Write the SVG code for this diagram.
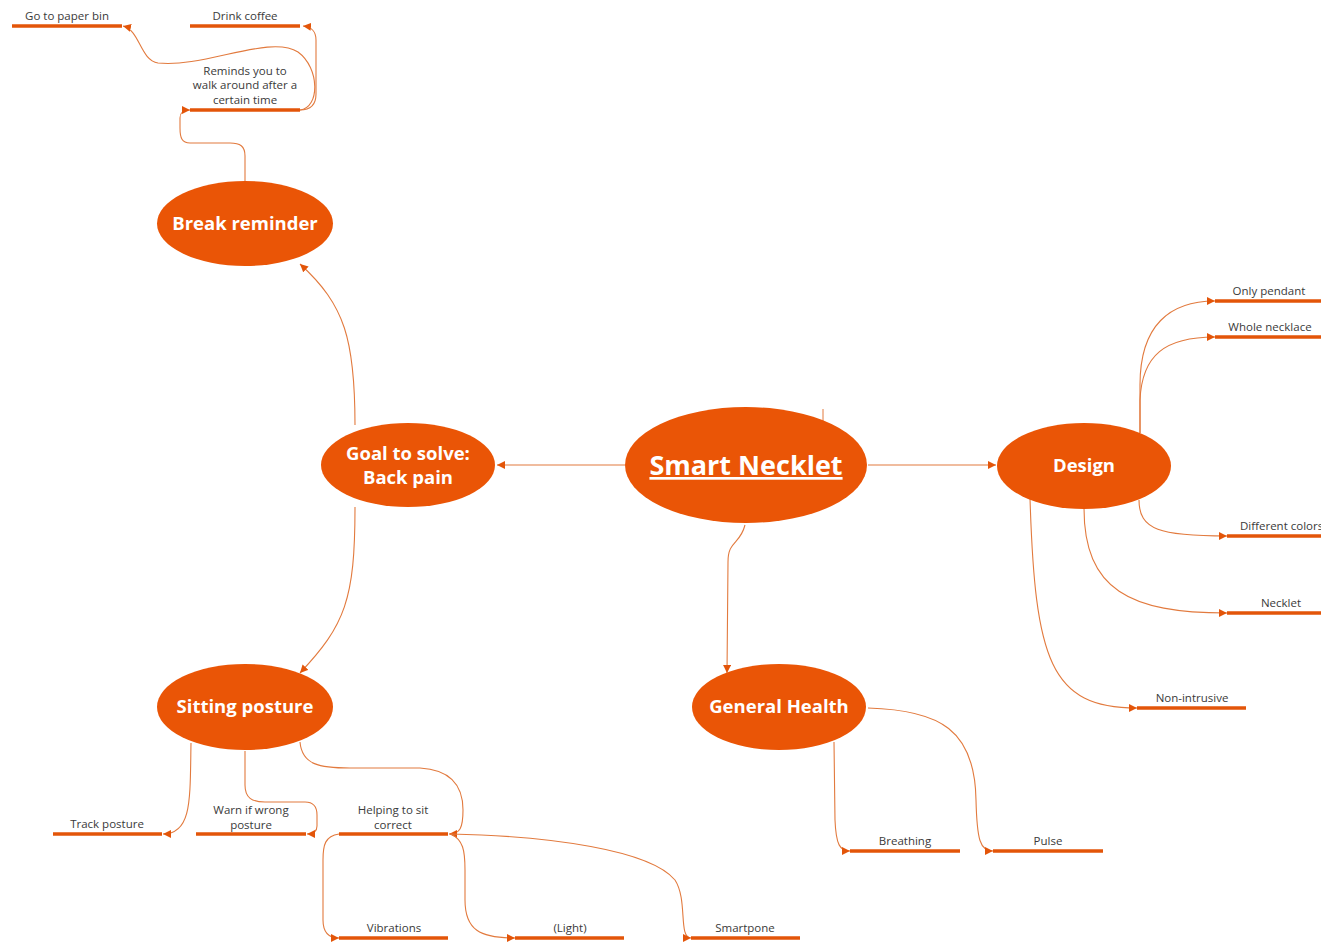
<svg xmlns="http://www.w3.org/2000/svg" width="1321" height="943" viewBox="0 0 1321 943">
<style>
.node{fill:#EA5506;}
.nt{font-family:"Open Sans","Noto Sans",sans-serif;font-weight:bold;font-size:18.5px;fill:#fff;text-anchor:middle;}
.lt{font-family:"Open Sans","Noto Sans",sans-serif;font-size:11.5px;fill:#3a3a3a;text-anchor:middle;}
.leaf{stroke:#E35509;stroke-width:3.5;fill:none;}
.c{stroke:#E27A3E;stroke-width:1.1;fill:none;marker-end:url(#arr);}
</style>
<defs>
<marker id="arr" markerUnits="userSpaceOnUse" markerWidth="9" markerHeight="8" refX="8" refY="4" orient="auto">
<path d="M0,0 L8,4 L0,8 Z" fill="#E35509"/>
</marker>
</defs>
<rect width="1321" height="943" fill="#fff"/>
<g id="connectors">
<path class="c" d="M625,465 L497,465"/>
<path class="c" d="M868,465 L996,465"/>
<path class="c" d="M745,525 C740,545 728,540 728,562 L727,673"/>
<path class="c" d="M355,425 C355,340 345,305 300,264"/>
<path class="c" d="M355,507 C355,600 345,625 300,673"/>
<path class="c" d="M245,181 L245,156 C245,146 240,143 230,143 L190,143 C182,143 180,138 180,128 L180,118 C180,112 183,110 190,110"/>
<path class="c" d="M300,110 C312,110 316,104 316,94 L316,40 C316,31 312,27 303,26"/>
<path class="c" d="M300,110 C320,108 320,68 298,52 C270,34 205,68 158,63 C140,60 140,30 123,26"/>
<path class="c" d="M1140,433 L1140,385 C1140,325 1170,301 1215,301"/>
<path class="c" d="M1140,433 L1140,400 C1142,355 1165,337 1215,337"/>
<path class="c" d="M1139,500 C1139,530 1160,536 1227,536"/>
<path class="c" d="M1084,508 C1084,590 1130,613 1227,613"/>
<path class="c" d="M1030,498 C1035,660 1050,708 1137,708"/>
<path class="c" d="M191,743 C190,800 192,834 163,834"/>
<path class="c" d="M245,751 L245,785 C245,798 252,802 265,802 L305,802 C313,802 317,806 317,815 L317,826 C317,832 313,834 307,834"/>
<path class="c" d="M300,742 C302,765 320,768 350,768 L420,768 C455,770 463,790 463,810 C463,828 460,834 449,834"/>
<path class="c" d="M339,834 C325,836 323,845 323,860 L323,920 C323,932 328,938 339,938"/>
<path class="c" d="M451,834 C463,840 465,850 465,870 L465,900 C465,930 480,938 515,938"/>
<path class="c" d="M451,834 C550,836 650,850 675,880 C688,900 678,938 691,938"/>
<path class="c" d="M834,742 L835,820 C836,845 840,851 850,851"/>
<path class="c" d="M868,708 C940,710 975,730 976,800 C977,840 980,851 993,851"/>
<path d="M823,409 L823,421" stroke="#E27A3E" stroke-width="1" fill="none"/>
</g>
<g id="smart-necklet">
<ellipse class="node" cx="746" cy="465" rx="121" ry="58"/>
<text class="nt" x="746" y="475" style="font-size:27px;text-decoration:underline">Smart Necklet</text>
</g>
<g id="goal">
<ellipse class="node" cx="408" cy="465" rx="87" ry="42"/>
<text class="nt" x="408" y="460">Goal to solve:</text>
<text class="nt" x="408" y="484">Back pain</text>
</g>
<g id="break-reminder">
<ellipse class="node" cx="245" cy="223.5" rx="88" ry="42.5"/>
<text class="nt" x="245" y="230">Break reminder</text>
</g>
<g id="sitting-posture">
<ellipse class="node" cx="245" cy="707" rx="88" ry="43"/>
<text class="nt" x="245" y="713">Sitting posture</text>
</g>
<g id="design">
<ellipse class="node" cx="1084" cy="466" rx="87" ry="43"/>
<text class="nt" x="1084" y="472">Design</text>
</g>
<g id="general-health">
<ellipse class="node" cx="779" cy="707" rx="87" ry="43"/>
<text class="nt" x="779" y="713">General Health</text>
</g>
<g id="go-to-paper-bin"><line class="leaf" x1="12" y1="26" x2="122" y2="26"/><text class="lt" x="67" y="20">Go to paper bin</text></g>
<g id="drink-coffee"><line class="leaf" x1="190" y1="26" x2="300" y2="26"/><text class="lt" x="245" y="20">Drink coffee</text></g>
<g id="reminds"><line class="leaf" x1="190" y1="110" x2="300" y2="110"/><text class="lt" x="245" y="75">Reminds you to</text><text class="lt" x="245" y="89">walk around after a</text><text class="lt" x="245" y="104">certain time</text></g>
<g id="only-pendant"><line class="leaf" x1="1215" y1="301" x2="1321" y2="301"/><text class="lt" x="1269" y="295">Only pendant</text></g>
<g id="whole-necklace"><line class="leaf" x1="1215" y1="337" x2="1321" y2="337"/><text class="lt" x="1270" y="331">Whole necklace</text></g>
<g id="different-colors"><line class="leaf" x1="1227" y1="536" x2="1321" y2="536"/><text class="lt" x="1240" y="530" style="text-anchor:start">Different colors</text></g>
<g id="necklet"><line class="leaf" x1="1227" y1="613" x2="1321" y2="613"/><text class="lt" x="1281" y="607">Necklet</text></g>
<g id="non-intrusive"><line class="leaf" x1="1137" y1="708" x2="1246" y2="708"/><text class="lt" x="1192" y="702">Non-intrusive</text></g>
<g id="track-posture"><line class="leaf" x1="53" y1="834" x2="162" y2="834"/><text class="lt" x="107" y="828">Track posture</text></g>
<g id="warn"><line class="leaf" x1="196" y1="834" x2="306" y2="834"/><text class="lt" x="251" y="814">Warn if wrong</text><text class="lt" x="251" y="829">posture</text></g>
<g id="helping"><line class="leaf" x1="339" y1="834" x2="448" y2="834"/><text class="lt" x="393" y="814">Helping to sit</text><text class="lt" x="393" y="829">correct</text></g>
<g id="vibrations"><line class="leaf" x1="339" y1="938" x2="448" y2="938"/><text class="lt" x="394" y="932">Vibrations</text></g>
<g id="light"><line class="leaf" x1="515" y1="938" x2="624" y2="938"/><text class="lt" x="570" y="932">(Light)</text></g>
<g id="smartpone"><line class="leaf" x1="691" y1="938" x2="800" y2="938"/><text class="lt" x="745" y="932">Smartpone</text></g>
<g id="breathing"><line class="leaf" x1="850" y1="851" x2="960" y2="851"/><text class="lt" x="905" y="845">Breathing</text></g>
<g id="pulse"><line class="leaf" x1="993" y1="851" x2="1103" y2="851"/><text class="lt" x="1048" y="845">Pulse</text></g>
</svg>
